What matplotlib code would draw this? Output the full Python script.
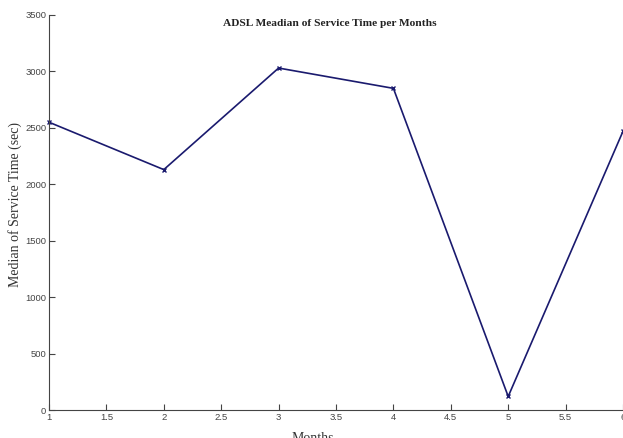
import matplotlib
matplotlib.use("Agg")
import matplotlib.pyplot as plt

# data
months = [1, 2, 3, 4, 5, 6]
median_service = [2550, 2130, 3030, 2850, 120, 2470]

x_ticks = [1, 1.5, 2, 2.5, 3, 3.5, 4, 4.5, 5, 5.5, 6]
y_ticks = [0, 500, 1000, 1500, 2000, 2500, 3000, 3500]

W, H = 623, 438
fig = plt.figure(figsize=(W / 100, H / 100), dpi=100)
fig.patch.set_facecolor("white")
# axes box in pixels: left 49, right 623, top 15, bottom 410
ax = fig.add_axes([49 / W, 1 - 410 / H, 574 / W, 395 / H])

ax.plot(months, median_service, color="#1a1a6e", lw=1.2,
        marker="x", markersize=3.5, markeredgewidth=1.0, clip_on=False)

ax.set_xlim(1, 6)
ax.set_ylim(0, 3500)
ax.set_xticks(x_ticks)
ax.set_xticklabels([f"{t:g}" for t in x_ticks])
ax.set_yticks(y_ticks)

for sp in ("top", "right"):
    ax.spines[sp].set_visible(False)
for sp in ("left", "bottom"):
    ax.spines[sp].set_linewidth(0.8)
    ax.spines[sp].set_color("#444444")

ax.tick_params(axis="both", direction="in", length=4, width=0.8,
               labelsize=6.8, colors="#444444", pad=2)
for lab in ax.get_xticklabels() + ax.get_yticklabels():
    lab.set_fontfamily("Liberation Sans")

fig.text(330 / W, 1 - 23 / H, "ADSL Meadian of Service Time per Months",
         fontsize=8.2, family="Liberation Serif", fontweight="bold",
         ha="center", va="center", color="#222222")

ax.set_ylabel("Median of Service Time (sec)", fontsize=10,
              family="Liberation Serif", color="#333333")
ax.yaxis.label.set_va("center")
ax.yaxis.set_label_coords(-0.059, 0.52)

ax.set_xlabel("Months", fontsize=10, family="Liberation Serif", color="#333333")
ax.xaxis.set_label_coords(0.46, -0.056)

fig.savefig("out.png", dpi=100)
